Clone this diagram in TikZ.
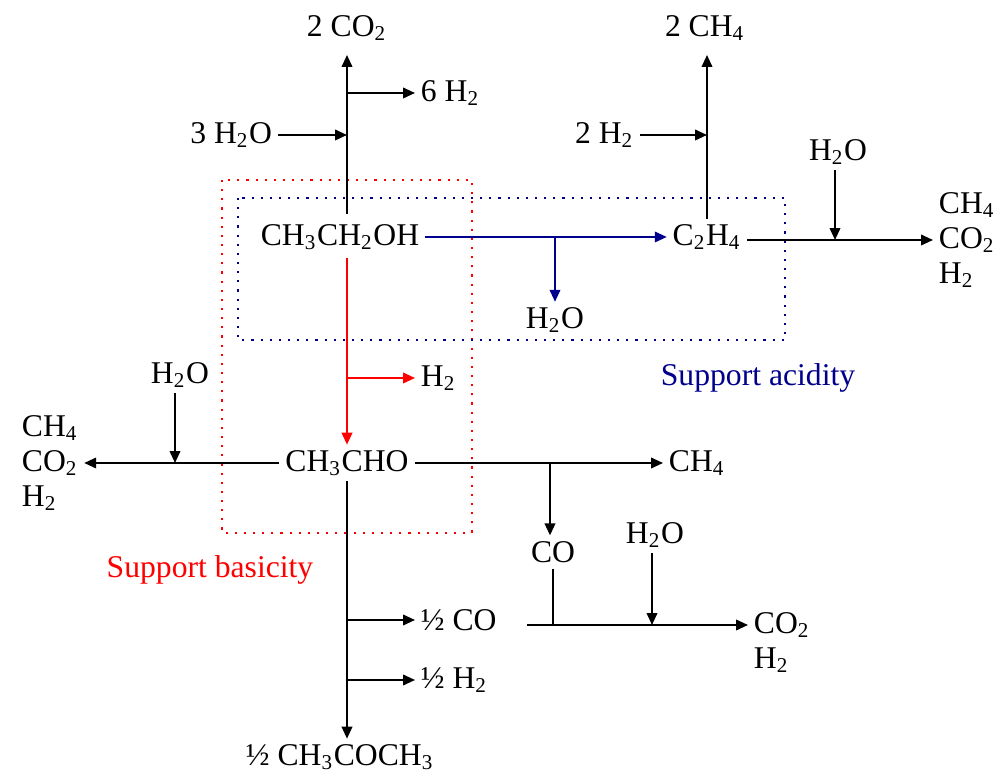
\documentclass[tikz,border=0pt]{standalone}
\usepackage{fontspec}
\setmainfont{Liberation Serif}
\usetikzlibrary{arrows.meta}
\definecolor{navy}{RGB}{0,0,140}
\newcommand{\ix}[1]{\textsubscript{#1}}
\begin{document}
\begin{tikzpicture}[x=0.01cm,y=-0.01cm,
  every node/.style={font=\fontsize{9}{10}\selectfont,inner sep=1.5pt},
  flow/.style={line width=0.55pt,-{Triangle[length=3.4pt,width=3pt]}},
  box/.style={line width=0.6pt,dotted}]
\useasboundingbox (0,0) rectangle (1000,783);
% support regions
\draw[box,red] (222,180) rectangle (472,533);
\draw[box,navy] (238,198) rectangle (785,340);
\node[red] (sbas) at (210,570) {Support basicity};
\node[navy] (sa) at (758,378) {Support acidity};
% top: ethanol reforming
\node (eth) at (340,237) {CH\ix{3}CH\ix{2}OH};
\node (co2a) at (347,28) {2 CO\ix{2}};
\node[anchor=west] (h2a) at (415,93) {6 H\ix{2}};
\node[anchor=east] (w3) at (278,135) {3 H\ix{2}O};
\coordinate (j1) at (347,93);
\coordinate (j2) at (347,135);
\coordinate (t1) at (347,55);
\coordinate (b1) at (347,214);
\draw[flow] (b1) -- (t1);
\draw[flow] (j1) -- (h2a.west);
\draw[flow] (w3.east) -- (j2);
% dehydration
\node (c2h4) at (707,237) {C\ix{2}H\ix{4}};
\node (wb) at (555,320) {H\ix{2}O};
\coordinate (j3) at (555,237);
\draw[flow,navy] (eth.east) -- (c2h4.west);
\draw[flow,navy] (j3) -- (wb.north);
\node (ch4a) at (705,28) {2 CH\ix{4}};
\node[anchor=east] (h2b) at (640,135) {2 H\ix{2}};
\coordinate (j4) at (707,135);
\coordinate (t2) at (707,55);
\draw[flow] (c2h4.north) -- (t2);
\draw[flow] (h2b.east) -- (j4);
\node (wc) at (838,152) {H\ix{2}O};
\node[anchor=west] (p1a) at (933,205) {CH\ix{4}};
\node[anchor=west] (p1b) at (933,240) {CO\ix{2}};
\node[anchor=west] (p1c) at (933,275) {H\ix{2}};
\coordinate (j5) at (835,240);
\draw[flow] (c2h4.east |- j5) -- (p1b.west);
\draw[flow] (wc.south -| j5) -- (j5);
% dehydrogenation
\node (ald) at (347,463) {CH\ix{3}CHO};
\node[anchor=west] (h2c) at (415,378) {H\ix{2}};
\coordinate (j6) at (347,378);
\coordinate (b2) at (347,258);
\draw[flow,red] (b2) -- (ald.north);
\draw[flow,red] (j6) -- (h2c.west);
% acetaldehyde left
\node[anchor=west] (p2a) at (16,428) {CH\ix{4}};
\node[anchor=west] (p2b) at (16,463) {CO\ix{2}};
\node[anchor=west] (p2c) at (16,498) {H\ix{2}};
\node (wd) at (180,375) {H\ix{2}O};
\coordinate (j7) at (175,463);
\draw[flow] (ald.west) -- (p2b.east);
\draw[flow] (wd.south -| j7) -- (j7);
% acetaldehyde right
\node[anchor=west] (ch4b) at (663,463) {CH\ix{4}};
\node (co) at (553,552) {CO};
\coordinate (j8) at (550,463);
\draw[flow] (ald.east) -- (ch4b.west);
\draw[flow] (j8) -- (j8 |- co.north);
\node (we) at (655,535) {H\ix{2}O};
\node[anchor=west] (p3a) at (748,625) {CO\ix{2}};
\node[anchor=west] (p3b) at (748,660) {H\ix{2}};
\coordinate (j9) at (553,625);
\coordinate (j10) at (652,625);
\coordinate (s9) at (527,625);
\draw[line width=0.55pt] (co.south) -- (j9);
\draw[flow] (s9) -- (p3a.west);
\draw[flow] (we.south -| j10) -- (j10);
% acetone route
\node (ace) at (340,757) {½ CH\ix{3}COCH\ix{3}};
\node[anchor=west] (hco) at (415,620) {½ CO};
\node[anchor=west] (hh2) at (415,680) {½ H\ix{2}};
\coordinate (j11) at (347,620);
\coordinate (j12) at (347,680);
\draw[flow] (ald.south) -- (ace.north -| ald.south);
\draw[flow] (j11) -- (hco.west);
\draw[flow] (j12) -- (hh2.west);
\end{tikzpicture}
\end{document}
